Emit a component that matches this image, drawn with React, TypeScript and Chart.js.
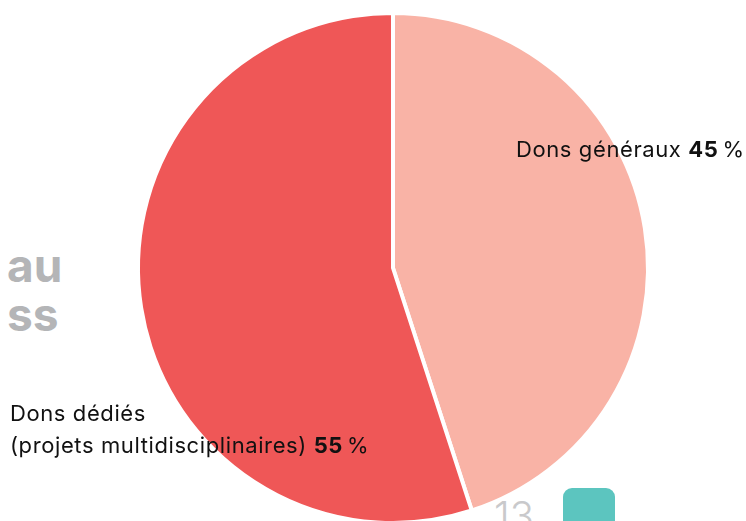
import React, { useEffect, useRef } from "react";
import { Chart, registerables } from "chart.js";

Chart.register(...registerables);

const categories = ["Dons généraux", "Dons dédiés (projets multidisciplinaires)"];
const values = [45, 55];
const colors = ["#F9B3A6", "#EF5757"];

const labelLines: string[][] = [["Dons généraux"], ["Dons dédiés", "(projets multidisciplinaires)"]];

const FONT = "Inter, 'Noto Sans', sans-serif";

const labelPlugin = {
  id: "sliceLabels",
  afterDatasetsDraw(chart: any) {
    const ctx = chart.ctx;
    const meta = chart.getDatasetMeta(0);
    const arc = meta.data[0];
    const cx = arc.x;
    const cy = arc.y;
    const anchors = [
      { x: cx + 123, y: cy - 111 },
      { x: cx - 383, y: cy + 153 },
    ];
    ctx.save();
    ctx.fillStyle = "#111111";
    ctx.textBaseline = "alphabetic";
    ctx.textAlign = "left";
    ctx.letterSpacing = "0.6px";
    values.forEach((v, i) => {
      const lines = labelLines[i];
      const a = anchors[i];
      lines.forEach((line, li) => {
        const y = a.y + li * 32;
        ctx.font = `400 22px ${FONT}`;
        ctx.fillText(line, a.x, y);
        if (li === lines.length - 1) {
          let x = a.x + ctx.measureText(line + " ").width;
          ctx.font = `700 22px ${FONT}`;
          ctx.fillText(String(v), x, y);
          x += ctx.measureText(String(v)).width + 4;
          ctx.font = `400 22px ${FONT}`;
          ctx.fillText("%", x, y);
        }
      });
    });
    ctx.restore();
  },
};

export default function App() {
  const ref = useRef<HTMLCanvasElement | null>(null);
  useEffect(() => {
    document.body.style.margin = "0";
    const chart = new Chart(ref.current!, {
      type: "pie",
      data: {
        labels: categories,
        datasets: [
          {
            data: values,
            backgroundColor: colors,
            borderColor: "#ffffff",
            borderWidth: 4,
          },
        ],
      },
      options: {
        responsive: false,
        animation: false,
        layout: { padding: { left: 136, right: 96, top: 11, bottom: 35 } },
        plugins: { legend: { display: false }, tooltip: { enabled: false } },
      },
      plugins: [labelPlugin],
    });
    return () => chart.destroy();
  }, []);
  return (
    <div style={{ position: "relative", width: 746, height: 521, overflow: "hidden", background: "#fff" }}>
      <div
        style={{
          position: "absolute",
          left: 7,
          top: 241,
          font: `700 46px/49px ${FONT}`,
          color: "#B4B5B7",
          whiteSpace: "pre",
        }}
      >
        {"au\nss"}
      </div>
      <div
        style={{
          position: "absolute",
          left: 494,
          top: 496,
          font: `300 40px/1 ${FONT}`,
          color: "#C9C9CB",
        }}
      >
        13
      </div>
      <div
        style={{
          position: "absolute",
          left: 563,
          top: 488,
          width: 52,
          height: 60,
          borderRadius: 9,
          background: "#5CC5BF",
        }}
      />
      <canvas ref={ref} width={746} height={560} style={{ position: "absolute", left: 0, top: 0 }} />
    </div>
  );
}
